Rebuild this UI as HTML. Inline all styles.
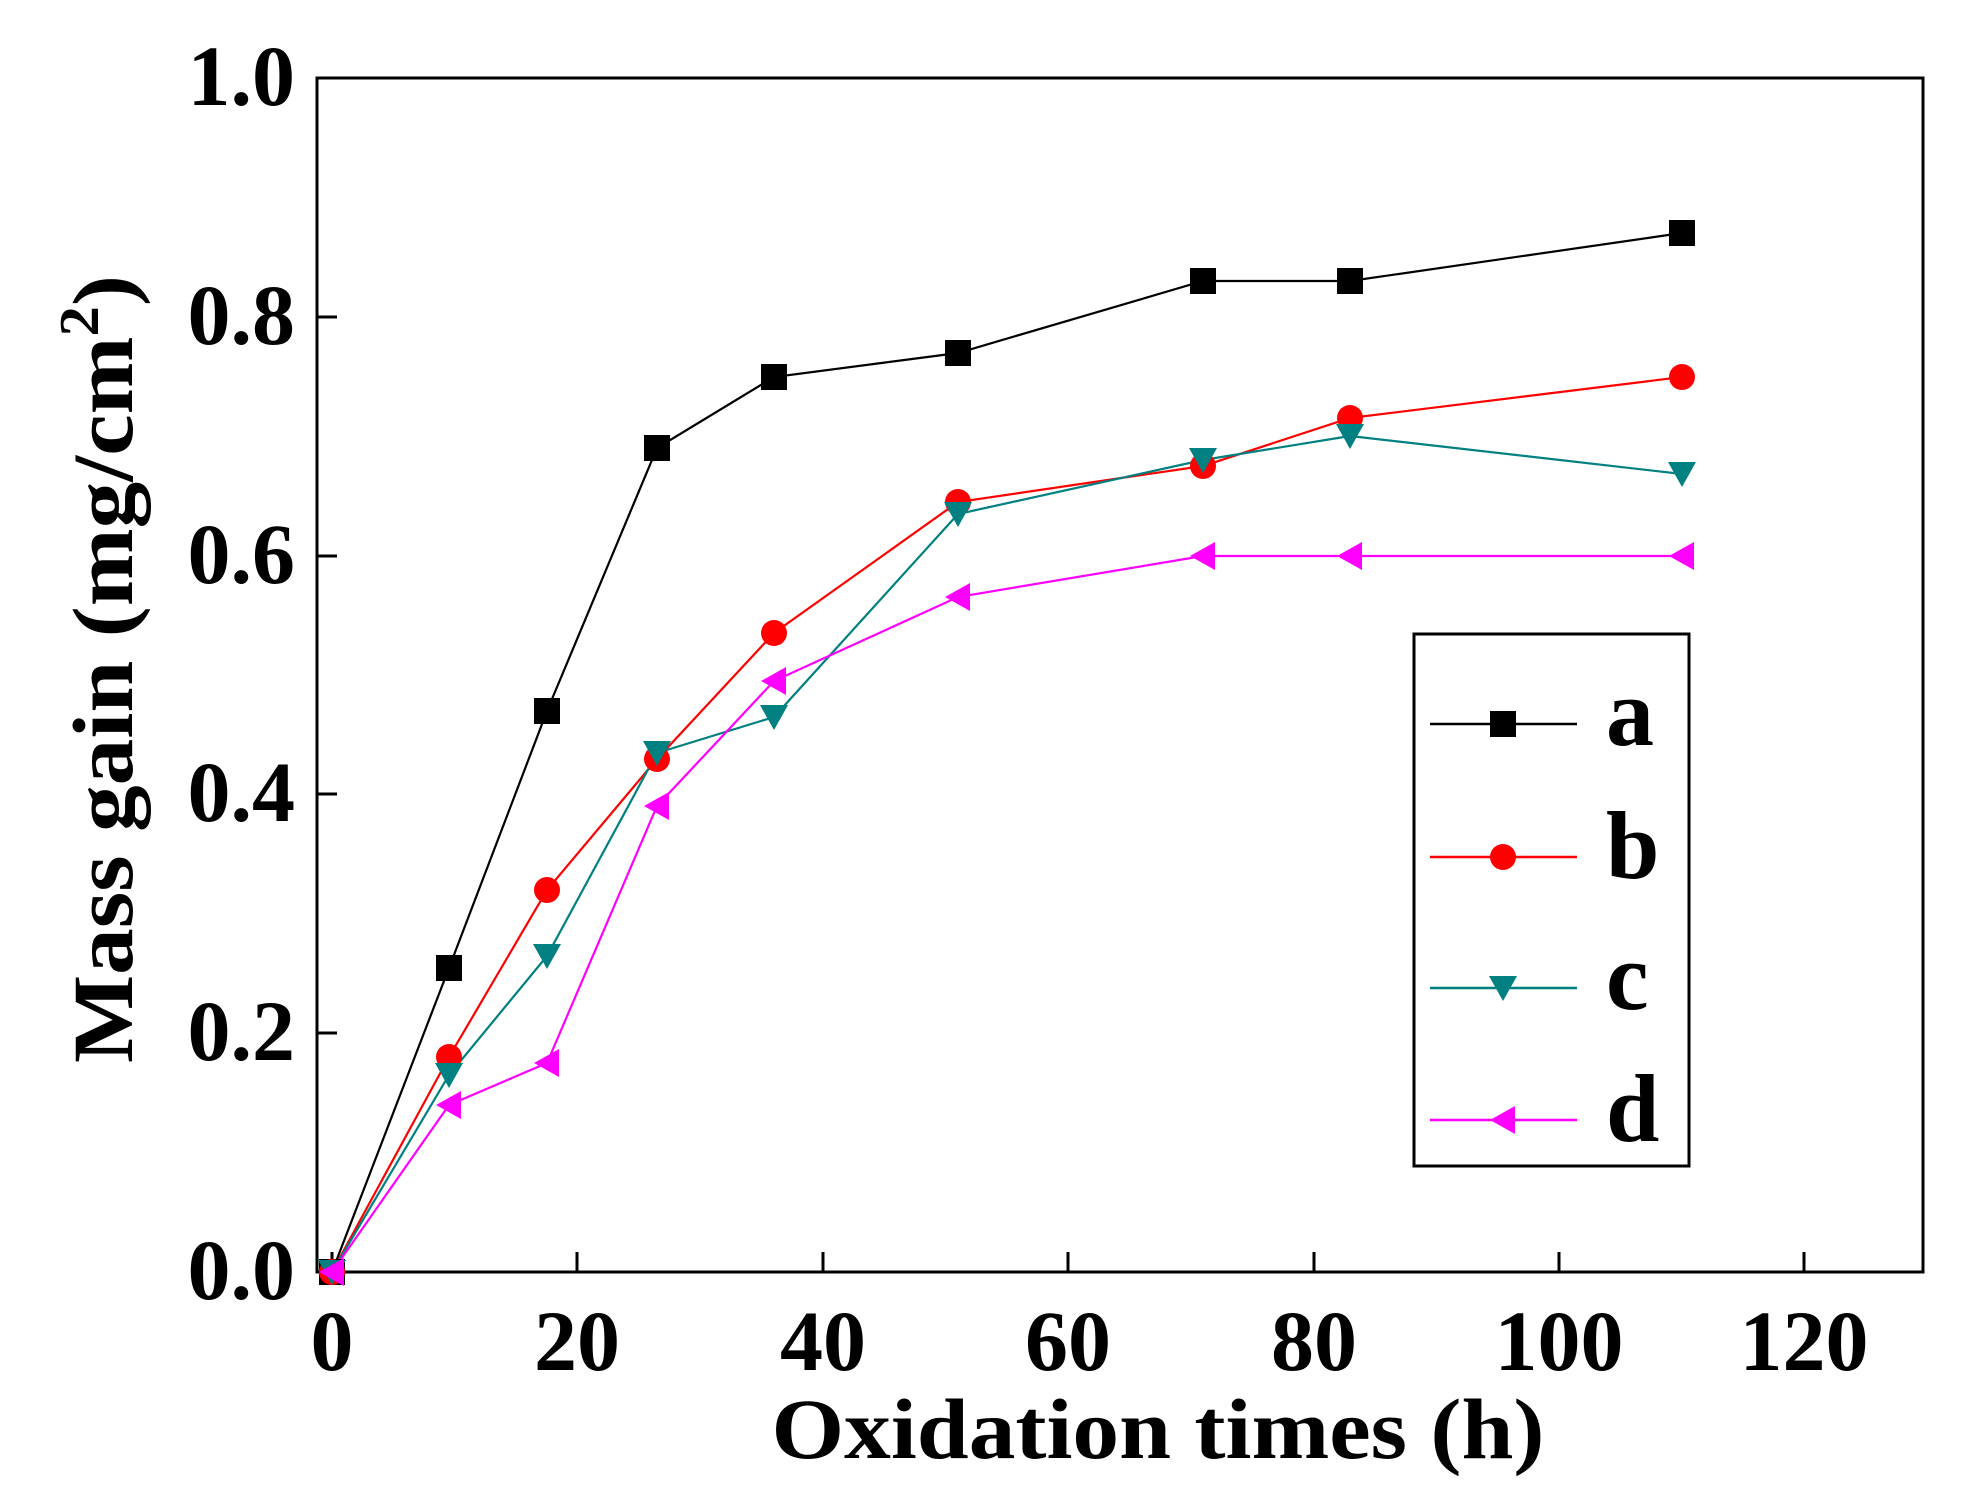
<!DOCTYPE html>
<html><head><meta charset="utf-8"><style>html,body{margin:0;padding:0;background:#fff}svg{display:block}</style></head>
<body>
<svg width="1962" height="1508" viewBox="0 0 1962 1508" xmlns="http://www.w3.org/2000/svg" font-family="Liberation Serif, serif" font-weight="bold">
<rect width="1962" height="1508" fill="#fff"/>
<!-- frame -->
<rect x="317" y="78" width="1606" height="1194" fill="none" stroke="#000" stroke-width="3"/>
<!-- x ticks -->
<g stroke="#000" stroke-width="3">
<line x1="332" y1="1272" x2="332" y2="1252"/>
<line x1="577" y1="1272" x2="577" y2="1252"/>
<line x1="823" y1="1272" x2="823" y2="1252"/>
<line x1="1068" y1="1272" x2="1068" y2="1252"/>
<line x1="1314" y1="1272" x2="1314" y2="1252"/>
<line x1="1559" y1="1272" x2="1559" y2="1252"/>
<line x1="1804" y1="1272" x2="1804" y2="1252"/>
<line x1="317" y1="1033" x2="337" y2="1033"/>
<line x1="317" y1="794" x2="337" y2="794"/>
<line x1="317" y1="556" x2="337" y2="556"/>
<line x1="317" y1="317" x2="337" y2="317"/>
</g>
<g font-size="86" text-anchor="middle">
<text x="332" y="1370">0</text>
<text x="577" y="1370">20</text>
<text x="823" y="1370">40</text>
<text x="1068" y="1370">60</text>
<text x="1314" y="1370">80</text>
<text x="1559" y="1370">100</text>
<text x="1804" y="1370">120</text>
</g>
<g font-size="86" text-anchor="end">
<text x="295" y="1299">0.0</text>
<text x="295" y="1060">0.2</text>
<text x="295" y="821">0.4</text>
<text x="295" y="583">0.6</text>
<text x="295" y="344">0.8</text>
<text x="295" y="105">1.0</text>
</g>
<text x="1158" y="1458" font-size="86" text-anchor="middle" textLength="773" lengthAdjust="spacingAndGlyphs">Oxidation times (h)</text>
<text transform="translate(132,669) rotate(-90)" font-size="86" text-anchor="middle" textLength="788" lengthAdjust="spacingAndGlyphs">Mass gain (mg/cm<tspan font-size="56" dy="-34">2</tspan><tspan dy="34">)</tspan></text>

<defs>
<rect id="sq" x="-13" y="-13" width="26" height="26" fill="#000"/>
<circle id="ci" r="13" fill="#ff0000"/>
<path id="tr" d="M-14,-12 L14,-12 L0,13 Z" fill="#008080"/>
<path id="lt" d="M-13,0 L12,-14 L12,14 Z" fill="#ff00ff"/>
</defs>
<!-- a -->
<polyline fill="none" stroke="#000" stroke-width="2.2" points="332,1272 449,968 547,711 657,448 774,377 958,353 1203,281 1350,281 1682,233"/>
<!-- b -->
<polyline fill="none" stroke="#ff0000" stroke-width="2.2" points="332,1272 449,1057 547,890 657,759 774,633 958,502 1203,466 1350,418 1682,377"/>
<!-- c -->
<polyline fill="none" stroke="#008080" stroke-width="2.2" points="332,1272 449,1075 547,956 657,753 774,717 958,514 1203,460 1350,436 1682,474"/>
<!-- d -->
<polyline fill="none" stroke="#ff00ff" stroke-width="2.2" points="332,1272 449,1105 547,1063 657,806 774,681 958,597 1203,556 1350,556 1682,556"/>
<g>
<use href="#sq" x="332" y="1272"/><use href="#sq" x="449" y="968"/><use href="#sq" x="547" y="711"/><use href="#sq" x="657" y="448"/><use href="#sq" x="774" y="377"/><use href="#sq" x="958" y="353"/><use href="#sq" x="1203" y="281"/><use href="#sq" x="1350" y="281"/><use href="#sq" x="1682" y="233"/>
<use href="#ci" x="332" y="1272"/><use href="#ci" x="449" y="1057"/><use href="#ci" x="547" y="890"/><use href="#ci" x="657" y="759"/><use href="#ci" x="774" y="633"/><use href="#ci" x="958" y="502"/><use href="#ci" x="1203" y="466"/><use href="#ci" x="1350" y="418"/><use href="#ci" x="1682" y="377"/>
<use href="#tr" x="332" y="1272"/><use href="#tr" x="449" y="1075"/><use href="#tr" x="547" y="956"/><use href="#tr" x="657" y="753"/><use href="#tr" x="774" y="717"/><use href="#tr" x="958" y="514"/><use href="#tr" x="1203" y="460"/><use href="#tr" x="1350" y="436"/><use href="#tr" x="1682" y="474"/>
<use href="#lt" x="332" y="1272"/><use href="#lt" x="449" y="1105"/><use href="#lt" x="547" y="1063"/><use href="#lt" x="657" y="806"/><use href="#lt" x="774" y="681"/><use href="#lt" x="958" y="597"/><use href="#lt" x="1203" y="556"/><use href="#lt" x="1350" y="556"/><use href="#lt" x="1682" y="556"/>
</g>
<!-- legend -->
<rect x="1414" y="634" width="275" height="532" fill="#fff" stroke="#000" stroke-width="3"/>
<line x1="1430" y1="724" x2="1577" y2="724" stroke="#000" stroke-width="2.5"/><use href="#sq" x="1503" y="724"/>
<line x1="1430" y1="857" x2="1577" y2="857" stroke="#ff0000" stroke-width="2.5"/><use href="#ci" x="1503" y="857"/>
<line x1="1430" y1="988" x2="1577" y2="988" stroke="#008080" stroke-width="2.5"/><use href="#tr" x="1503" y="988"/>
<line x1="1430" y1="1120" x2="1577" y2="1120" stroke="#ff00ff" stroke-width="2.5"/><use href="#lt" x="1503" y="1120"/>
<g font-size="96">
<text x="1606" y="745">a</text>
<text x="1606" y="878">b</text>
<text x="1606" y="1009">c</text>
<text x="1606" y="1141">d</text>
</g>
</svg>
</body></html>
